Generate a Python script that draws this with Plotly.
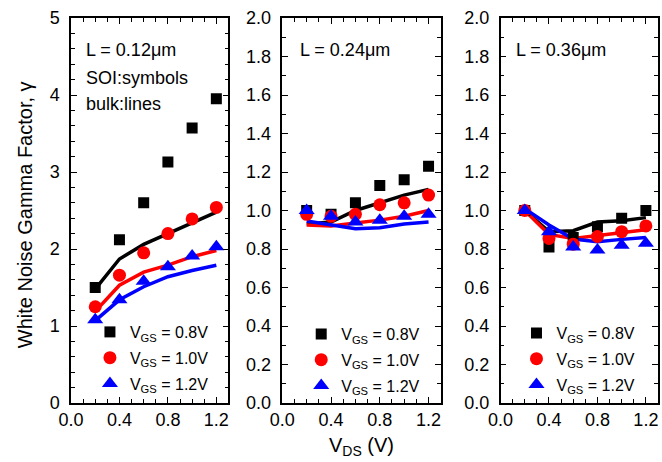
import plotly.graph_objects as go

# Drain-source bias points (V)
vds = [0.2, 0.4, 0.6, 0.8, 1.0, 1.2]

# L = 0.12 um : SOI measurements (symbols) and bulk (lines)
soi_012_08 = [1.50, 2.12, 2.60, 3.13, 3.57, 3.95]
soi_012_10 = [1.25, 1.66, 1.95, 2.20, 2.39, 2.54]
soi_012_12 = [1.08, 1.34, 1.58, 1.77, 1.91, 2.03]
bulk_012_08 = [1.48, 1.87, 2.06, 2.20, 2.35, 2.48]
bulk_012_10 = [1.19, 1.53, 1.70, 1.79, 1.90, 1.98]
bulk_012_12 = [1.07, 1.34, 1.51, 1.64, 1.72, 1.79]

# L = 0.24 um
soi_024_08 = [1.00, 0.98, 1.04, 1.13, 1.16, 1.23]
soi_024_10 = [0.98, 0.97, 0.98, 1.03, 1.04, 1.08]
soi_024_12 = [1.00, 0.97, 0.94, 0.95, 0.97, 0.98]
bulk_024_08 = [0.93, 0.94, 1.00, 1.04, 1.08, 1.11]
bulk_024_10 = [0.925, 0.92, 0.935, 0.95, 0.97, 1.00]
bulk_024_12 = [0.945, 0.925, 0.905, 0.91, 0.93, 0.94]

# L = 0.36 um
soi_036_08 = [1.00, 0.81, 0.86, 0.915, 0.96, 1.00]
soi_036_10 = [1.00, 0.855, 0.825, 0.865, 0.89, 0.92]
soi_036_12 = [1.00, 0.89, 0.81, 0.795, 0.82, 0.83]
bulk_036_08 = [1.00, 0.89, 0.895, 0.94, 0.947, 0.963]
bulk_036_10 = [1.00, 0.876, 0.855, 0.87, 0.887, 0.90]
bulk_036_12 = [1.01, 0.925, 0.852, 0.838, 0.85, 0.86]

vgs_labels = ["V<sub>GS</sub> = 0.8V", "V<sub>GS</sub> = 1.0V", "V<sub>GS</sub> = 1.2V"]
length_labels = ["L = 0.12\u03bcm", "L = 0.24\u03bcm", "L = 0.36\u03bcm"]

colors = ["#000000", "#ff0000", "#0000ff"]
symbols = ["square", "circle", "triangle-up"]
sizes = [11, 13, 14]

panels = [
    ([soi_012_08, soi_012_10, soi_012_12], [bulk_012_08, bulk_012_10, bulk_012_12]),
    ([soi_024_08, soi_024_10, soi_024_12], [bulk_024_08, bulk_024_10, bulk_024_12]),
    ([soi_036_08, soi_036_10, soi_036_12], [bulk_036_08, bulk_036_10, bulk_036_12]),
]

FONT = "Liberation Sans, Arial, Helvetica, sans-serif"

# pixel layout of the 662x462 canvas
W, H = 662, 462
ML, MR, MT, MB = 71, 2, 18, 59
PW, PH = W - ML - MR, H - MT - MB
panel_px = [(71, 229), (283, 442), (502, 660)]


def px_x(x):
    return (x - ML) / PW


def px_y(y):
    return (H - MB - y) / PH


fig = go.Figure()

for i, (soi, bulk) in enumerate(panels):
    xa = "x" if i == 0 else f"x{i + 1}"
    ya = "y" if i == 0 else f"y{i + 1}"
    leg = "legend" if i == 0 else f"legend{i + 1}"
    for k in range(3):
        fig.add_trace(go.Scatter(
            x=vds, y=bulk[k], mode="lines", xaxis=xa, yaxis=ya,
            line=dict(color=colors[k], width=3.5), showlegend=False,
            hoverinfo="skip"))
    for k in range(3):
        fig.add_trace(go.Scatter(
            x=vds, y=soi[k], mode="markers", xaxis=xa, yaxis=ya,
            marker=dict(symbol=symbols[k], color=colors[k], size=sizes[k],
                        line=dict(width=0)),
            name=vgs_labels[k], legend=leg, legendgroup=f"g{i}{k}"))

axis_common = dict(
    showline=True, linecolor="black", linewidth=1.5, mirror="allticks",
    ticks="inside", ticklen=6, tickwidth=1.2, tickcolor="black",
    showgrid=False, zeroline=False,
    tickfont=dict(family=FONT, size=18, color="black"),
)

layout = dict(
    width=W, height=H,
    margin=dict(l=ML, r=MR, t=MT, b=MB, pad=0),
    paper_bgcolor="white", plot_bgcolor="white",
    font=dict(family=FONT, color="black"),
    showlegend=True,
)

for i, (x0, x1) in enumerate(panel_px):
    sfx = "" if i == 0 else str(i + 1)
    layout[f"xaxis{sfx}"] = dict(
        axis_common, domain=[px_x(x0), px_x(x1)], range=[0, 1.3],
        tickvals=[0.0, 0.4, 0.8, 1.2], ticktext=["0.0", "0.4", "0.8", "1.2"],
        minor=dict(dtick=0.1, tick0=0, ticks="inside", ticklen=4,
                   tickwidth=1.2, tickcolor="black"),
        anchor="y" if i == 0 else f"y{i + 1}",
        ticklabelstandoff=0,
    )
    if i == 0:
        yextra = dict(range=[0, 5], dtick=1, tick0=0, tickformat="d",
                      minor=dict(dtick=0.2, tick0=0, ticks="inside", ticklen=4,
                                 tickwidth=1.2, tickcolor="black"))
    else:
        yextra = dict(range=[0, 2], dtick=0.2, tick0=0, tickformat=".1f",
                      minor=dict(dtick=0.1, tick0=0, ticks="inside", ticklen=4,
                                 tickwidth=1.2, tickcolor="black"))
    layout[f"yaxis{sfx}"] = dict(
        axis_common, domain=[0, 1], anchor="x" if i == 0 else f"x{i + 1}",
        ticklabelstandoff=6, **yextra)

# per-panel legends of the SOI symbols
legend_px = [(90, 315), (302, 317), (518, 316)]
for i, (lx, ly) in enumerate(legend_px):
    key = "legend" if i == 0 else f"legend{i + 1}"
    layout[key] = dict(
        x=px_x(lx), y=px_y(ly), xanchor="left", yanchor="top",
        bgcolor="rgba(0,0,0,0)", borderwidth=0,
        font=dict(family=FONT, size=16, color="black"),
        traceorder="grouped", tracegroupgap=2, itemwidth=30,
    )

fig.update_layout(**layout)

annotations = []
# panel labels
label_px = [(84, 50), (299, 50), (516, 50)]
for (lx, ly), txt in zip(label_px, length_labels):
    annotations.append(dict(x=px_x(lx), y=px_y(ly), xref="paper", yref="paper",
                            text=txt, showarrow=False, xanchor="left",
                            yanchor="middle",
                            font=dict(family=FONT, size=18, color="black")))
for ly, txt in [(78, "SOI:symbols"), (104, "bulk:lines")]:
    annotations.append(dict(x=px_x(84), y=px_y(ly), xref="paper", yref="paper",
                            text=txt, showarrow=False, xanchor="left",
                            yanchor="middle",
                            font=dict(family=FONT, size=18, color="black")))
# axis titles
annotations.append(dict(x=px_x(362), y=px_y(446), xref="paper", yref="paper",
                        text="V<sub>DS</sub> (V)", showarrow=False,
                        xanchor="center", yanchor="middle",
                        font=dict(family=FONT, size=20, color="black")))
annotations.append(dict(x=px_x(25), y=px_y(215), xref="paper", yref="paper",
                        text="White Noise Gamma Factor, \u03b3", showarrow=False,
                        textangle=-90, xanchor="center", yanchor="middle",
                        font=dict(family=FONT, size=20, color="black")))
fig.update_layout(annotations=annotations)

fig.write_html("out.html")
